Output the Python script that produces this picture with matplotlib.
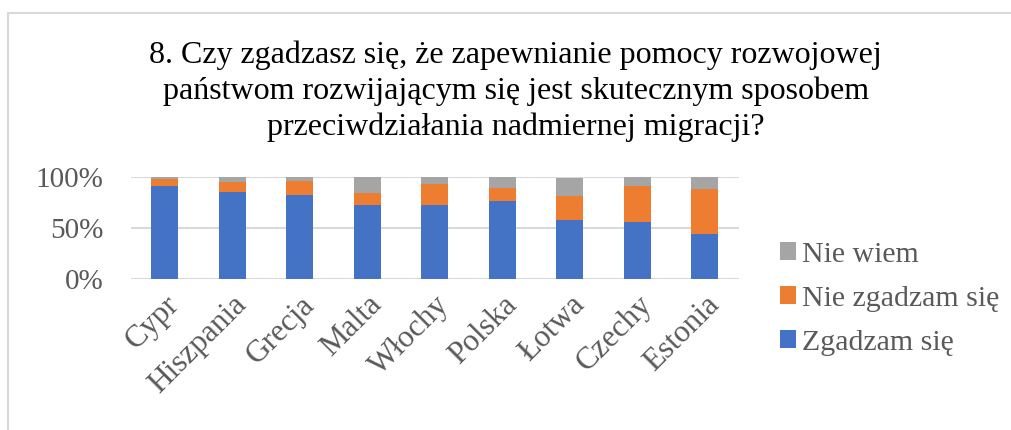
import matplotlib.pyplot as plt
from matplotlib.patches import Rectangle
import numpy as np

plt.rcParams['font.family'] = ['Liberation Serif', 'DejaVu Serif']

# Dane (w %)
kraje = ['Cypr', 'Hiszpania', 'Grecja', 'Malta', 'Włochy', 'Polska', 'Łotwa', 'Czechy', 'Estonia']
zgadzam = [91.5, 85.3, 82.4, 72.6, 72.6, 76.5, 58.0, 56.0, 44.3]
nie_zgadzam = [6.5, 9.8, 13.7, 11.8, 20.9, 13.1, 23.4, 35.5, 44.0]
nie_wiem = [2.0, 4.9, 3.9, 15.6, 6.5, 10.4, 17.6, 8.5, 11.7]
etykiety_y = ['0%', '50%', '100%']

kolory = {'Zgadzam się': '#4472C4', 'Nie zgadzam się': '#ED7D31', 'Nie wiem': '#A5A5A5'}
tekst = '#595959'

fig = plt.figure(figsize=(10.11, 4.30), dpi=100)
# Ramka wykresu
fig.patches.append(Rectangle((8 / 1011, -0.1), 1.2, 1.1 - 13 / 430, transform=fig.transFigure,
                             fill=False, edgecolor='#D9D9D9', linewidth=1.5))

ax = fig.add_axes([0.1296, 0.351, 0.601, 0.2372])
x = np.arange(len(kraje))
z = np.array(zgadzam)
n = np.array(nie_zgadzam)
w = np.array(nie_wiem)
b1 = ax.bar(x, z, width=0.4, color=kolory['Zgadzam się'], label='Zgadzam się', zorder=3)
b2 = ax.bar(x, n, width=0.4, bottom=z, color=kolory['Nie zgadzam się'], label='Nie zgadzam się', zorder=3)
b3 = ax.bar(x, w, width=0.4, bottom=z + n, color=kolory['Nie wiem'], label='Nie wiem', zorder=3)

ax.set_xlim(-0.5, len(kraje) - 0.5)
ax.set_ylim(0, 100)
ax.set_yticks([0, 50, 100])
ax.set_yticklabels(etykiety_y)
ax.yaxis.grid(True, color='#D9D9D9', linewidth=1.5, zorder=0)
for s in ax.spines.values():
    s.set_visible(False)
ax.tick_params(length=0, labelsize=21, labelcolor=tekst)
ax.tick_params(axis='y', pad=20)
ax.set_xticks(x)
ax.set_xticklabels(kraje, rotation=45, ha='right', rotation_mode='anchor')
ax.tick_params(axis='x', labelsize=22.5, pad=8)

fig.text(0.51, 0.788, '8. Czy zgadzasz się, że zapewnianie pomocy rozwojowej\n'
         'państwom rozwijającym się jest skutecznym sposobem\n'
         'przeciwdziałania nadmiernej migracji?',
         ha='center', va='center', fontsize=23, color='black', linespacing=1.3)

leg = fig.legend(handles=[b3, b2, b1], loc='center left', bbox_to_anchor=(0.745, 0.305),
                 frameon=False, fontsize=21.5, handlelength=0.55, handleheight=0.55,
                 handletextpad=0.2, labelspacing=0.6)
for t in leg.get_texts():
    t.set_color(tekst)

fig.savefig('out.png', dpi=100)
